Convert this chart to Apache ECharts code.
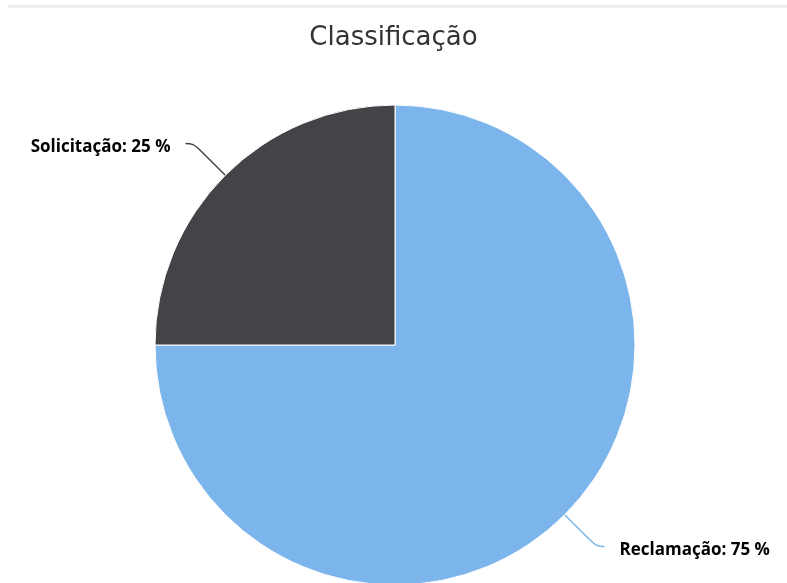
<!DOCTYPE html>
<html>
<head>
<meta charset="utf-8"/>
<title>Classificação</title>
<script src="https://cdn.jsdelivr.net/npm/echarts@6/dist/echarts.min.js"></script>
<style>
html, body { margin: 0; padding: 0; background: #fff; }
#main { width: 787px; height: 583px; }
</style>
</head>
<body>
<div id="main"></div>
<script type="text/javascript">
// dados do gráfico
const categories = ['Reclamação', 'Solicitação']
const values = [75, 25]
const colors = ['#7cb5ec', '#434348']

const chart = echarts.init(document.getElementById('main'))

const option = {
    animation: false,
    title: {
        text: 'Classificação',
        left: 'center',
        top: 20,
        textStyle: {
            fontFamily: 'DejaVu Sans',
            fontSize: 26,
            fontWeight: 'normal',
            color: '#333333'
        }
    },
    graphic: [{
        type: 'rect',
        shape: { x: 8, y: 5, width: 779, height: 3 },
        style: { fill: '#eeeeee' }
    }],
    series: [{
        type: 'pie',
        center: [395, 345],
        radius: 240,
        startAngle: 90,
        clockwise: true,
        itemStyle: {
            borderColor: '#ffffff',
            borderWidth: 1
        },
        label: {
            show: true,
            formatter: '{b}: {c} %',
            fontFamily: 'Open Sans',
            fontSize: 17,
            fontWeight: 'bold',
            color: '#000000',
            distanceToLabelLine: 15
        },
        labelLine: {
            show: true,
            length: 45,
            length2: 8,
            smooth: 0.4,
            lineStyle: { width: 1.5 }
        },
        labelLayout: { dy: 4 },
        data: categories.map((name, i) => ({
            name: name,
            value: values[i],
            itemStyle: { color: colors[i] }
        }))
    }]
}

chart.setOption(option)
</script>
</body>
</html>
